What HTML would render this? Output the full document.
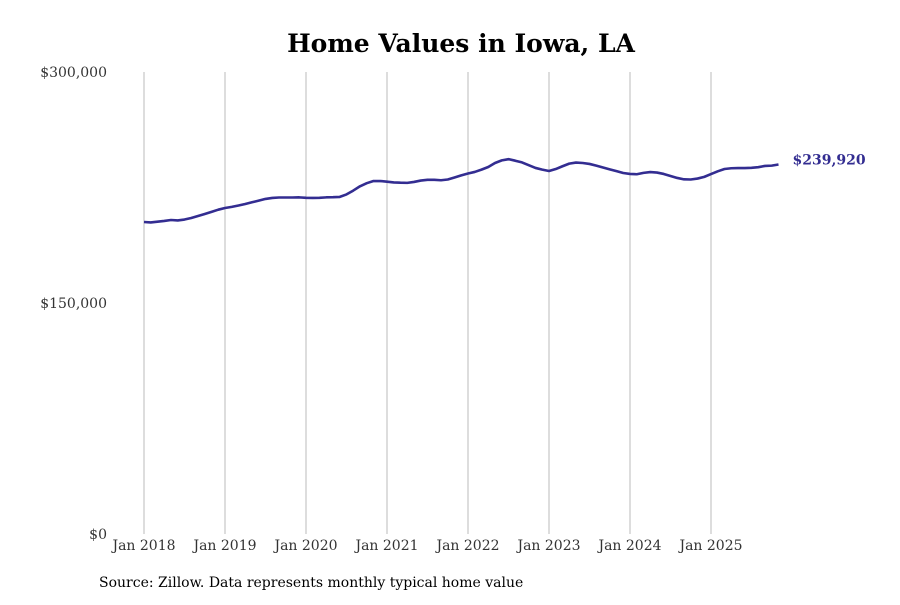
<!DOCTYPE html>
<html><head><meta charset="utf-8"><style>
body{margin:0;background:#fff;}
svg text{font-family:"DejaVu Serif",serif;}
</style></head><body>
<svg width="900" height="600" id="chart">
<rect width="900" height="600" fill="#fff"/>
<text x="461" y="52" text-anchor="middle" font-size="25" font-weight="bold">Home Values in Iowa, LA</text>
<g id="grid"></g><g id="yticks"></g><g id="xticks"></g>
<path id="line" fill="none" stroke="#332d91" stroke-width="2.6" stroke-linejoin="round"/>
<text id="endlabel" font-size="14" font-weight="bold" fill="#332d91"></text>
<text x="99" y="587" font-size="14">Source: Zillow. Data represents monthly typical home value</text>
</svg>
<script>
const startYear = 2018;
const values = [
202.6,202.3,202.8,203.3,203.9,203.6,204.2,205.2,206.5,207.8,209.2,210.6,
211.7,212.4,213.3,214.3,215.4,216.5,217.6,218.2,218.5,218.5,218.5,218.6,
218.3,218.2,218.3,218.6,218.7,218.9,220.5,223.0,225.8,227.8,229.2,229.2,
228.8,228.3,228.1,228.0,228.6,229.5,230.0,230.0,229.7,230.2,231.5,232.9,
234.1,235.1,236.6,238.3,240.9,242.6,243.4,242.4,241.3,239.5,237.7,236.6,
235.7,237.0,238.8,240.5,241.2,240.9,240.3,239.2,238.0,236.8,235.6,234.4,
233.8,233.6,234.5,235.0,234.7,233.8,232.5,231.2,230.3,230.2,230.8,231.9,
233.7,235.5,237.0,237.5,237.6,237.6,237.8,238.2,239.0,239.2,239.92
].map(v=>v*1000);
const yTickValues = [0,150000,300000];
const yTickLabels = ["$0","$150,000","$300,000"];
const xTickLabels = ["Jan 2018","Jan 2019","Jan 2020","Jan 2021","Jan 2022","Jan 2023","Jan 2024","Jan 2025"];
const NS="http://www.w3.org/2000/svg";
const x0=144, pxPerMonth=6.75, yBase=534, yTop=72, yMax=300000;
const xs=i=>x0+i*pxPerMonth;
const ys=v=>yBase-(v/yMax)*(yBase-yTop);
const grid=document.getElementById('grid'), xt=document.getElementById('xticks'), yt=document.getElementById('yticks');
xTickLabels.forEach((lab,k)=>{
  const x=xs(k*12);
  const l=document.createElementNS(NS,'line');
  l.setAttribute('x1',x);l.setAttribute('x2',x);l.setAttribute('y1',yTop);l.setAttribute('y2',yBase);
  l.setAttribute('stroke','#bbb');l.setAttribute('stroke-width','1');
  
  
  grid.appendChild(l);
  const t=document.createElementNS(NS,'text');
  t.setAttribute('x',x);t.setAttribute('y',550);t.setAttribute('text-anchor','middle');t.setAttribute('font-size','14');t.setAttribute('fill','#333');
  t.textContent=lab;
  
  
  xt.appendChild(t);
});
yTickValues.forEach((v,k)=>{
  const t=document.createElementNS(NS,'text');
  t.setAttribute('x',107);t.setAttribute('y',ys(v)+5);t.setAttribute('text-anchor','end');t.setAttribute('font-size','14');t.setAttribute('fill','#333');
  t.textContent=yTickLabels[k];
  
  
  yt.appendChild(t);
});
let d='';
values.forEach((v,i)=>{d+=(i?'L':'M')+xs(i).toFixed(2)+','+ys(v).toFixed(2);});
document.getElementById('line').setAttribute('d',d);
const last=values.length-1, el=document.getElementById('endlabel');
el.setAttribute('x',xs(last)+14);el.setAttribute('y',ys(values[last])+0);
el.textContent='$'+Math.round(values[last]).toLocaleString('en-US');
</script>
</body></html>
